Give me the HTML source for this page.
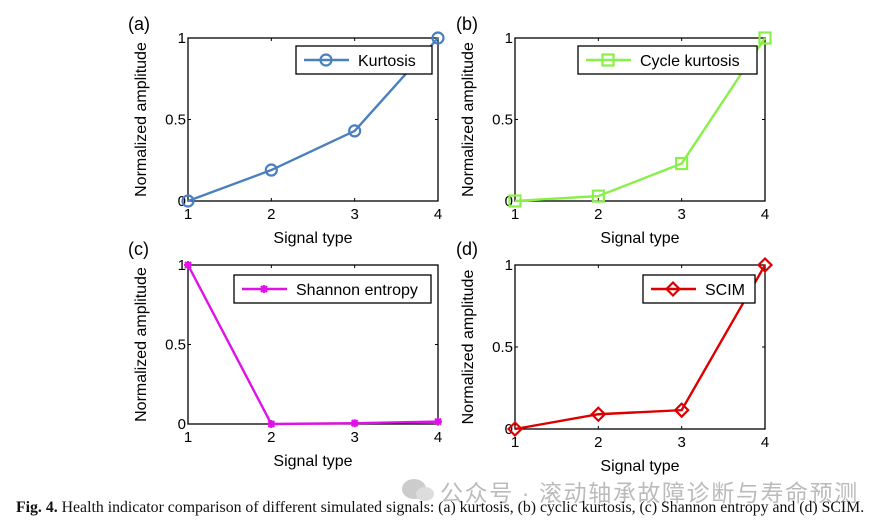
<!DOCTYPE html>
<html><head><meta charset="utf-8"><style>
body{margin:0;background:#fff;width:891px;height:525px;overflow:hidden;position:relative}
svg text{font-family:"Liberation Sans",Arial,sans-serif}
#cap{position:absolute;left:16px;top:499px;font:15.8px "Liberation Serif",serif;color:#111;white-space:nowrap}
#wm{position:absolute;left:440px;top:474px;font:23px "Liberation Sans","Noto Sans CJK SC",sans-serif;color:#bbb;white-space:nowrap;letter-spacing:1.6px}
</style></head><body>
<svg id="chart" width="891" height="525"></svg>
<div id="wm">公众号 · 滚动轴承故障诊断与寿命预测</div>
<svg style="position:absolute;left:400px;top:476px" width="36" height="28"><ellipse cx="14" cy="13" rx="12" ry="10" fill="#ccc"/><ellipse cx="25" cy="18" rx="9" ry="7" fill="#ddd"/></svg>
<div id="cap"><b>Fig. 4.</b> Health indicator comparison of different simulated signals: (a) kurtosis, (b) cyclic kurtosis, (c) Shannon entropy and (d) SCIM.</div>
<script>
const categories=[1,2,3,4];
const yTicks=[0,0.5,1];
const yTickLabels=["0","0.5","1"];
const kurtosisValues=[0,0.19,0.43,1];
const cycleKurtosisValues=[0,0.03,0.23,1];
const shannonValues=[1,0,0.005,0.015];
const scimValues=[0,0.09,0.115,1];
const panels=[
 {tag:"(a)",vals:kurtosisValues,name:"Kurtosis",color:"#4a7fc0",marker:"circle",box:[188,38,438,201],leg:[296,46,432,74],tagPos:[128,30]},
 {tag:"(b)",vals:cycleKurtosisValues,name:"Cycle kurtosis",color:"#88f046",marker:"square",box:[515,38,765,201],leg:[578,46,757,74],tagPos:[456,30]},
 {tag:"(c)",vals:shannonValues,name:"Shannon entropy",color:"#e010e8",marker:"star",box:[188,265,438,424],leg:[234,275,431,303],tagPos:[128,255]},
 {tag:"(d)",vals:scimValues,name:"SCIM",color:"#dd0000",marker:"diamond",box:[515,265,765,429],leg:[643,275,755,303],tagPos:[456,255]}
];
const svg=document.getElementById('chart');
const NS="http://www.w3.org/2000/svg";
function mk(t,a,p){const e=document.createElementNS(NS,t);for(const k in a)e.setAttribute(k,a[k]);(p||svg).appendChild(e);return e;}
function marker(g,type,x,y,c){
 let e;
 if(type==="circle")e=mk("circle",{cx:x,cy:y,r:5.5,fill:"none",stroke:c,"stroke-width":2.2},g);
 else if(type==="square")e=mk("rect",{x:x-5.5,y:y-5.5,width:11,height:11,fill:"none",stroke:c,"stroke-width":2.2},g);
 else if(type==="diamond")e=mk("polygon",{points:`${x},${y-6.5} ${x+6.5},${y} ${x},${y+6.5} ${x-6.5},${y}`,fill:"none",stroke:c,"stroke-width":2.2},g);
 else e=mk("path",{d:`M${x-4} ${y}h8M${x} ${y-4}v8M${x-3} ${y-3}l6 6M${x+3} ${y-3}l-6 6`,stroke:c,"stroke-width":2.2},g);
 
 
}
panels.forEach((p,i)=>{
 const [x0,y0,x1,y1]=p.box;
 const g=mk("g",{});
 
 
 const sx=v=>x0+(v-1)/3*(x1-x0);
 const sy=v=>y1-v*(y1-y0);
 const fr=mk("rect",{x:x0,y:y0,width:x1-x0,height:y1-y0,fill:"#fff",stroke:"#000","stroke-width":1.3},g);
 
 
 categories.forEach(c=>{
  const X=sx(c);
  mk("line",{x1:X,y1:y1,x2:X,y2:y1-3,stroke:"#000"},g);
  mk("line",{x1:X,y1:y0,x2:X,y2:y0+3,stroke:"#000"},g);
  const t=mk("text",{x:X,y:y1+18,"text-anchor":"middle","font-size":15},g);t.textContent=c;
  
  
 });
 yTicks.forEach((v,k)=>{
  const Y=sy(v);
  mk("line",{x1:x0,y1:Y,x2:x0+3,y2:Y,stroke:"#000"},g);
  mk("line",{x1:x1,y1:Y,x2:x1-3,y2:Y,stroke:"#000"},g);
  const t=mk("text",{x:x0-2,y:Y+5,"text-anchor":"end","font-size":15},g);t.textContent=yTickLabels[k];
  
  
 });
 const xt=mk("text",{x:(x0+x1)/2,y:y1+42,"text-anchor":"middle","font-size":16},g);xt.textContent="Signal type";
 
 
 const yc=(y0+y1)/2,yx=x0-42;
 const yt=mk("text",{x:yx,y:yc,"text-anchor":"middle","font-size":16,transform:`rotate(-90 ${yx} ${yc})`},g);yt.textContent="Normalized amplitude";
 
 
 const tg=mk("text",{x:p.tagPos[0],y:p.tagPos[1],"font-size":18},g);tg.textContent=p.tag;
 
 
 const pts=p.vals.map((v,k)=>`${sx(categories[k])},${sy(v)}`).join(" ");
 const ln=mk("polyline",{points:pts,fill:"none",stroke:p.color,"stroke-width":2.4},g);
 
 
 p.vals.forEach((v,k)=>marker(g,p.marker,sx(categories[k]),sy(v),p.color));
 const [lx0,ly0,lx1,ly1]=p.leg;
 const lg=mk("g",{},g);
 
 
 mk("rect",{x:lx0,y:ly0,width:lx1-lx0,height:ly1-ly0,fill:"#fff",stroke:"#000","stroke-width":1.3},lg);
 const ly=(ly0+ly1)/2;
 mk("line",{x1:lx0+8,y1:ly,x2:lx0+53,y2:ly,stroke:p.color,"stroke-width":2.4},lg);
 marker(lg,p.marker,lx0+30,ly,p.color);
 const lt=mk("text",{x:lx0+62,y:ly+6,"font-size":16},lg);lt.textContent=p.name;
 
 
});
</script>
</body></html>
